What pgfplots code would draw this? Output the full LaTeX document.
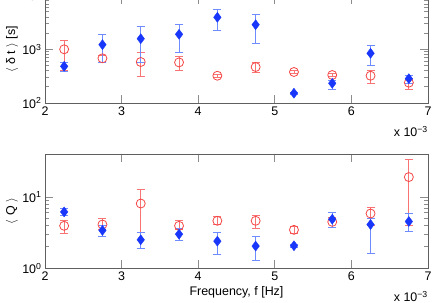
\documentclass[border=0pt]{standalone}
\usepackage{pgfplots}
\pgfplotsset{compat=1.18}
\usepackage{pgfplotstable}
\usepackage{fontspec}
\setmainfont{Liberation Sans}
\definecolor{bl}{RGB}{25,55,250}
\definecolor{blE}{RGB}{110,140,255}
\definecolor{rd}{RGB}{245,70,70}
\definecolor{rdE}{RGB}{248,115,115}
\definecolor{axg}{RGB}{95,95,95}

\pgfplotstableread{
x y lo hi
2.25 482 394 580
2.75 1219 580 1870
3.25 1574 580 2637
3.75 1901 879 2870
4.25 3946 2286 5560
4.75 2870 1294 4490
5.25 152 145 159
5.75 233 180 268
6.25 842 495 1186
6.75 284 233 332
}\topblue
\pgfplotstableread{
x y lo hi
2.25 1000 400 1472
2.75 680 580 783
3.25 580 314 879
3.75 570 406 728
4.25 322 305 340
4.75 468 367 563
5.25 378 355 400
5.75 332 310 355
6.25 322 236 406
6.75 239 180 276
}\topred
\pgfplotstableread{
x y lo hi
2.25 6.17 5.43 7.01
2.75 3.40 2.83 3.94
3.25 2.51 1.90 3.18
3.75 3.01 2.43 3.65
4.25 2.40 1.57 3.21
4.75 2.05 1.31 2.76
5.25 2.07 1.98 2.16
5.75 4.88 3.74 5.98
6.25 4.11 1.62 4.93
6.75 4.53 3.32 5.79
}\botblue
\pgfplotstableread{
x y lo hi
2.25 3.94 3.08 4.68
2.75 4.11 3.51 4.93
3.25 8.09 3.21 12.7
3.75 3.94 3.51 4.63
4.25 4.63 4.06 5.26
4.75 4.63 3.62 5.43
5.25 3.46 3.05 3.90
5.75 4.48 3.74 5.16
6.25 5.86 4.03 7.25
6.75 19.0 4.03 33.3
}\botred

\pgfplotsset{
  panel/.style={
    scale only axis, width=383bp,
    xmin=2, xmax=7, xtick={2,3,4,5,6,7},
    /pgf/number format/assume math mode=true,
    axis line style={axg, line width=0.7bp},
    major tick length=8bp, minor tick length=4bp,
    every tick/.style={black!45, line width=0.7bp},
    tick label style={font=\fontsize{12.5}{14}\selectfont},
    label style={font=\fontsize{12.5}{14}\selectfont},
    ylabel style={at={(axis description cs:-0.0862,0.5)}, anchor=center},
  },
  redser/.style={only marks, mark=o, mark size=4.5bp, color=rd, mark options={line width=0.8bp},
    error bars/y dir=both, error bars/y explicit,
    error bars/error bar style={rdE, line width=0.8bp},
    error bars/error mark options={rotate=90, mark size=4bp, rdE, line width=0.8bp}},
  blueser/.style={only marks, mark=diamond*, mark size=5bp, color=bl, mark options={fill=bl, draw=bl},
    error bars/y dir=both, error bars/y explicit,
    error bars/error bar style={blE, line width=0.8bp},
    error bars/error mark options={rotate=90, mark size=4bp, blE, line width=0.8bp}},
}

\begin{document}
\begin{tikzpicture}
\begin{semilogyaxis}[panel, name=bot, at={(0,0)}, anchor=south west,
  height=114.3bp, ymin=1, ymax=40,
  ytick={1,10}, yticklabels={10\textsuperscript{0},10\textsuperscript{1}},
  ylabel={$\langle$ Q $\rangle$},
  xlabel={Frequency, f [Hz]},
  xlabel style={at={(axis description cs:0.5,0)}, yshift=-24.4bp, anchor=center},
]
\addplot[redser] table[x=x, y=y, y error plus expr=\thisrow{hi}-\thisrow{y}, y error minus expr=\thisrow{y}-\thisrow{lo}] {\botred};
\addplot[blueser] table[x=x, y=y, y error plus expr=\thisrow{hi}-\thisrow{y}, y error minus expr=\thisrow{y}-\thisrow{lo}] {\botblue};
\end{semilogyaxis}
\begin{semilogyaxis}[panel, name=top, at={(0,165.3bp)}, anchor=south west,
  height=107.4bp, ymin=100, ymax=10000,
  ytick={100,1000,10000}, yticklabels={10\textsuperscript{2},10\textsuperscript{3},10\textsuperscript{4}},
  ylabel={$\langle$ δ t $\rangle$ [s]},
]
\addplot[redser] table[x=x, y=y, y error plus expr=\thisrow{hi}-\thisrow{y}, y error minus expr=\thisrow{y}-\thisrow{lo}] {\topred};
\addplot[blueser] table[x=x, y=y, y error plus expr=\thisrow{hi}-\thisrow{y}, y error minus expr=\thisrow{y}-\thisrow{lo}] {\topblue};
\end{semilogyaxis}
\node[anchor=base east, inner sep=0pt, font=\fontsize{12.5}{14}\selectfont] at ([yshift=-33.2bp]bot.south east) {x 10\textsuperscript{−3}};
\node[anchor=base east, inner sep=0pt, font=\fontsize{12.5}{14}\selectfont] at ([yshift=-33.5bp]top.south east) {x 10\textsuperscript{−3}};
\pgfresetboundingbox
\path (bot.south west) ++(-45bp,-34.7bp) rectangle ++(436bp,303bp);
\end{tikzpicture}
\end{document}
